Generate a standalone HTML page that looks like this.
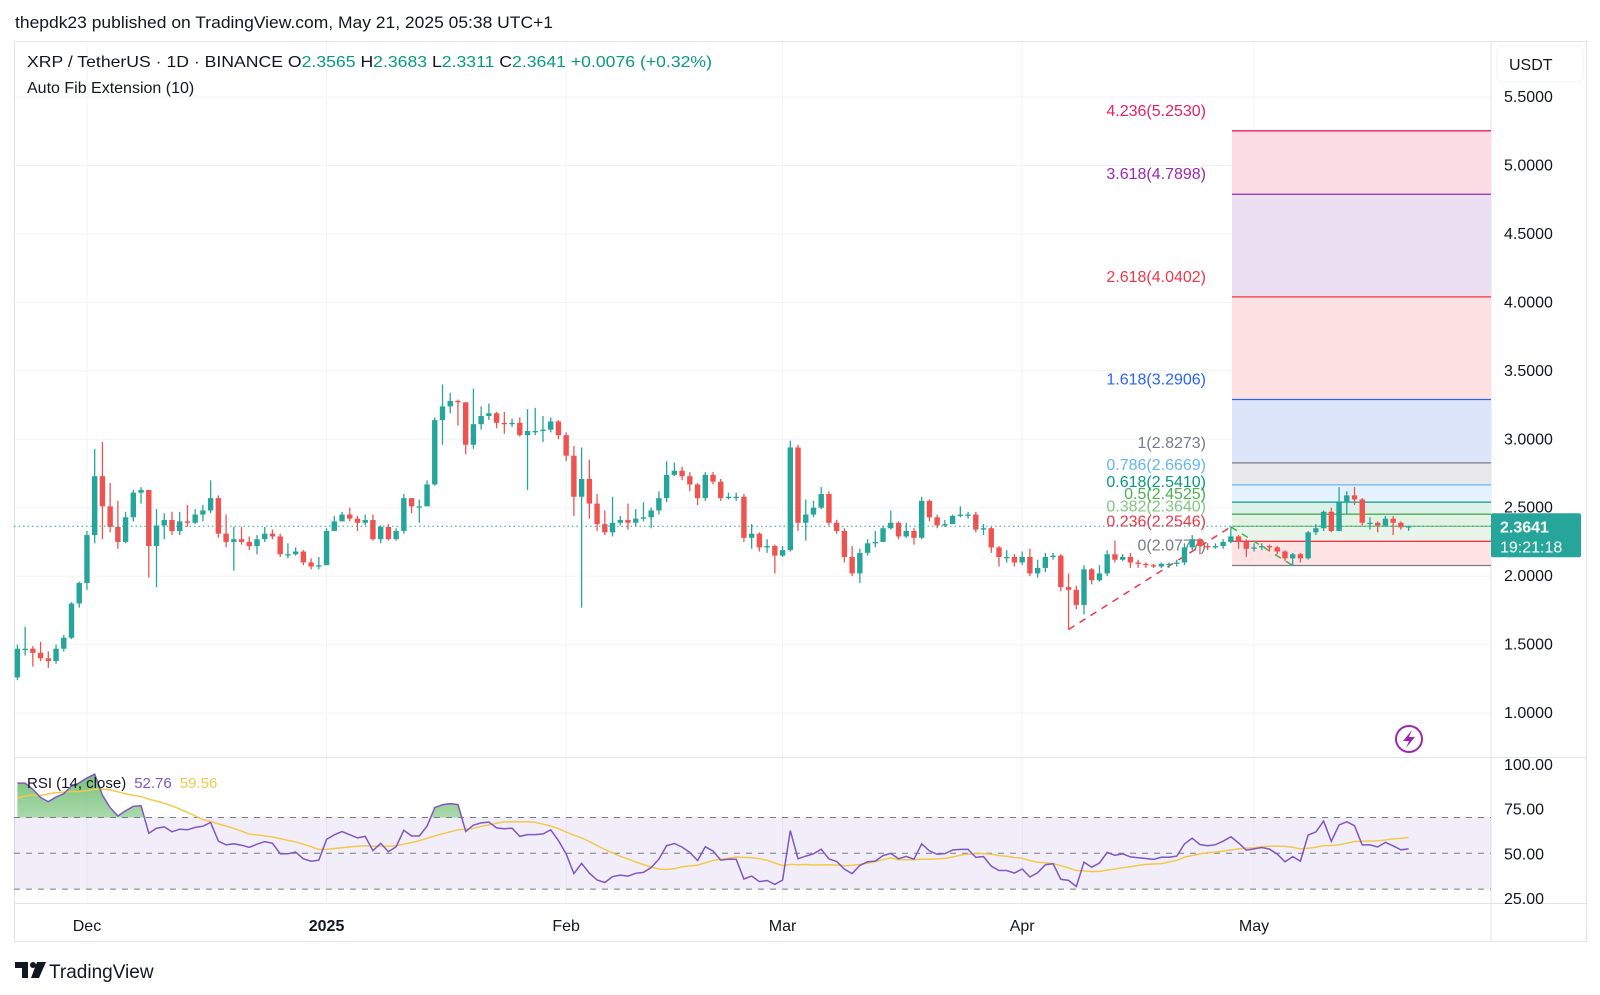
<!DOCTYPE html>
<html><head><meta charset="utf-8">
<style>
html,body{margin:0;padding:0;background:#fff;width:1600px;height:995px;overflow:hidden}
svg{display:block}
</style></head>
<body>
<svg id="c" width="1600" height="995" xmlns="http://www.w3.org/2000/svg" font-family="Liberation Sans, sans-serif">
<defs>
<clipPath id="mainClip"><rect x="14" y="41" width="1477" height="716"/></clipPath>
<clipPath id="rsiClip"><rect x="14" y="758" width="1477" height="145"/></clipPath>
<clipPath id="obClip"><rect x="14" y="758" width="1477" height="59.5"/></clipPath>
<linearGradient id="obGrad" x1="0" y1="0" x2="0" y2="1"><stop offset="0" stop-color="#4caf50" stop-opacity="0.75"/><stop offset="1" stop-color="#4caf50" stop-opacity="0.05"/></linearGradient>
</defs>
<rect x="0" y="0" width="1600" height="995" fill="#ffffff"/>
<text x="15" y="28" font-size="17" fill="#131722" textLength="538" lengthAdjust="spacingAndGlyphs">thepdk23 published on TradingView.com, May 21, 2025 05:38 UTC+1</text>
<rect x="14.5" y="41.5" width="1572" height="900" fill="none" stroke="#e0e3eb"/>
<g id="grid"></g>
<g id="fib" clip-path="url(#mainClip)"></g>
<g id="candles" clip-path="url(#mainClip)"></g>
<g id="rsi"></g>
<g id="axes"></g>
<text x="27" y="67" font-size="16" textLength="685" lengthAdjust="spacingAndGlyphs"><tspan fill="#131722">XRP / TetherUS · 1D · BINANCE  O</tspan><tspan fill="#089981">2.3565</tspan><tspan fill="#131722">  H</tspan><tspan fill="#089981">2.3683</tspan><tspan fill="#131722">  L</tspan><tspan fill="#089981">2.3311</tspan><tspan fill="#131722">  C</tspan><tspan fill="#089981">2.3641  +0.0076 (+0.32%)</tspan></text>
<text x="27" y="93" font-size="16" fill="#131722">Auto Fib Extension (10)</text>
<text x="27" y="788" font-size="15"><tspan fill="#131722">RSI (14, close)</tspan><tspan fill="#7e57c2" dx="8">52.76</tspan><tspan fill="#f2c94c" dx="8">59.56</tspan></text>
<rect x="1497" y="46" width="86" height="36" rx="6" fill="#fff" stroke="#f0f3fa"/>
<text x="1509" y="70" font-size="16" fill="#131722">USDT</text>
<g>
<circle cx="1409" cy="739" r="13" fill="#fff" stroke="#9c27b0" stroke-width="2"/>
<polygon points="1412,730 1403,741 1409,741 1406,748 1415,737 1409,737" fill="#9c27b0"/>
</g>
<g>
<path d="M15 962 h13 v16 h-6 v-10 h-7z" fill="#131722"/>
<circle cx="33" cy="965" r="3" fill="#131722"/>
<path d="M37 962 h9 l-7 16 h-8z" fill="#131722"/>
<text x="49" y="978" font-size="19" fill="#131722">TradingView</text>
</g>
</svg>
<script>
const preCloses=[0.53,0.53,0.54,0.54,0.53,0.52,0.52,0.51,0.51,0.52,0.52,0.51,0.51,0.50,0.52,0.54,0.55,0.56,0.61,0.62,0.71,0.64,0.72,0.80,0.93,1.12,1.09,1.10,1.07,1.11,1.26];
const closes=[1.47,1.47,1.44,1.40,1.38,1.47,1.55,1.80,1.95,2.30,2.73,2.51,2.36,2.25,2.43,2.61,2.63,2.22,2.37,2.41,2.33,2.40,2.39,2.45,2.48,2.57,2.31,2.25,2.27,2.25,2.22,2.27,
2.31,2.29,2.16,2.16,2.18,2.10,2.07,2.08,2.33,2.40,2.45,2.42,2.39,2.41,2.27,2.36,2.27,2.33,2.57,2.51,2.51,2.67,3.14,3.24,3.28,3.27,2.96,3.11,3.17,3.19,3.12,
3.11,3.12,3.03,3.06,3.06,3.07,3.13,3.03,2.88,2.58,2.71,2.53,2.38,2.32,2.39,2.41,2.39,2.42,2.43,2.48,2.57,2.74,2.77,2.73,2.67,2.57,2.74,2.69,2.57,2.58,2.58,2.28,2.31,
2.21,2.22,2.15,2.19,2.94,2.39,2.45,2.50,2.60,2.39,2.33,2.14,2.02,2.17,2.24,2.25,2.35,2.39,2.29,2.33,2.28,2.55,2.43,2.37,2.38,2.44,2.45,2.45,2.34,2.35,2.21,2.14,
2.14,2.10,2.14,2.02,2.06,2.14,2.15,1.92,1.90,1.79,2.05,1.97,2.02,2.16,2.12,2.14,2.10,2.09,2.08,2.07,2.09,2.09,2.10,2.21,2.27,2.22,2.21,2.22,2.25,2.29,2.25,2.20,2.21,2.22,2.21,2.18,2.13,2.16,2.13,2.32,2.35,2.47,2.33,2.54,2.59,2.56,2.39,2.39,2.37,2.42,
2.39,2.3565,2.3641];
const highs=[1.50,1.63,1.49,1.52,1.45,1.50,1.57,1.81,1.96,2.33,2.93,2.98,2.68,2.55,2.47,2.63,2.65,2.63,2.49,2.46,2.47,2.47,2.52,2.49,2.52,2.70,2.59,2.45,2.36,2.36,2.29,2.30,
2.36,2.34,2.31,2.24,2.21,2.19,2.13,2.14,2.35,2.44,2.47,2.50,2.44,2.45,2.45,2.37,2.38,2.35,2.60,2.57,2.56,2.70,3.16,3.40,3.34,3.29,3.27,3.37,3.24,3.26,3.20,
3.20,3.15,3.16,3.22,3.23,3.17,3.16,3.14,3.05,2.95,2.94,2.85,2.60,2.48,2.58,2.44,2.53,2.49,2.54,2.50,2.62,2.84,2.83,2.80,2.76,2.68,2.76,2.76,2.71,2.61,2.61,2.60,2.38,
2.32,2.27,2.23,2.22,2.99,2.96,2.56,2.55,2.65,2.62,2.41,2.35,2.22,2.20,2.27,2.33,2.37,2.48,2.40,2.39,2.35,2.58,2.56,2.45,2.41,2.45,2.51,2.47,2.47,2.38,2.36,2.22,
2.19,2.16,2.18,2.20,2.12,2.17,2.17,2.16,2.02,1.93,2.08,2.06,2.08,2.19,2.26,2.16,2.17,2.12,2.10,2.09,2.10,2.10,2.12,2.24,2.30,2.28,2.24,2.24,2.27,2.36,2.30,2.27,2.24,2.24,2.23,2.22,2.19,2.17,2.17,2.33,2.38,2.48,2.50,2.65,2.62,2.65,2.57,2.43,2.40,2.44,
2.44,2.40,2.3683];
const lows=[1.24,1.42,1.34,1.38,1.33,1.36,1.45,1.54,1.77,1.90,2.24,2.27,2.32,2.20,2.24,2.40,2.53,1.99,1.92,2.27,2.30,2.30,2.36,2.38,2.40,2.46,2.28,2.21,2.04,2.23,2.19,2.16,
2.25,2.27,2.14,2.13,2.15,2.08,2.05,2.05,2.08,2.33,2.40,2.40,2.33,2.37,2.26,2.24,2.26,2.26,2.31,2.46,2.39,2.51,2.66,2.96,3.19,3.10,2.89,2.93,3.07,3.14,3.08,
3.04,3.09,3.02,2.63,3.03,2.98,3.05,3.00,2.84,2.44,1.77,2.42,2.33,2.30,2.29,2.37,2.34,2.36,2.40,2.35,2.45,2.54,2.73,2.70,2.62,2.52,2.55,2.67,2.55,2.56,2.55,2.25,2.20,
2.18,2.17,2.02,2.14,2.18,2.33,2.26,2.43,2.49,2.37,2.31,2.10,2.00,1.95,2.15,2.21,2.25,2.34,2.27,2.28,2.23,2.27,2.40,2.35,2.36,2.38,2.43,2.42,2.32,2.30,2.17,2.07,
2.10,2.07,2.08,2.00,1.99,2.03,2.12,1.89,1.6104,1.76,1.72,1.94,1.96,2.00,2.10,2.11,2.06,2.06,2.06,2.06,2.06,2.06,2.07,2.08,2.19,2.16,2.19,2.20,2.20,2.24,2.20,2.14,2.18,2.19,2.18,2.16,2.11,2.0777,2.10,2.12,2.30,2.33,2.32,2.33,2.45,2.52,2.37,2.34,2.32,2.36,
2.30,2.34,2.3311];
const dateLabels=['Dec','2025','Feb','Mar','Apr','May'];
const dateLabelIdx=[9,40,71,99,130,160];
const priceTicks=[1.0,1.5,2.0,2.5,3.0,3.5,4.0,4.5,5.0,5.5];
const rsiTicks=[100,75,50,25];
const rsiBands=[70,50,30];
const fibRatios=[0,0.236,0.382,0.5,0.618,0.786,1,1.618,2.618,3.618,4.236];
const fibColors=['#787b86','#f23645','#81c784','#4caf50','#089981','#64b5f6','#787b86','#2962ff','#f23645','#9c27b0','#e91e63'];
const fibFills=['#fde3e3','#e9f5ea','#e3f2e4','#ddf0ea','#e3f2fd','#e8e8ec','#dde5fb','#fde1e1','#ecdff2','#fbdbe4'];
const fibPivotIdx=[136,157,165];

const NS='http://www.w3.org/2000/svg';
function mk(tag,attrs,parent){const e=document.createElementNS(NS,tag);for(const k in attrs)e.setAttribute(k,attrs[k]);parent.appendChild(e);return e;}
const X0=17.4, STEP=7.729;
const xs=i=>X0+i*STEP;
const yP=p=>97+(5.5-p)*136.9;
const yR=v=>853.3-(v-50)*1.79;
const opens=closes.map((c,i)=>i===0?preCloses[preCloses.length-1]:closes[i-1]);

const grid=document.getElementById('grid');
const axes=document.getElementById('axes');
// vertical grid + date labels
dateLabelIdx.forEach((d,k)=>{
  const x=xs(d);
  const gl=mk('line',{x1:x,x2:x,y1:42,y2:903,stroke:'#f0f3fa','stroke-width':1},grid);
  
  
  const t=mk('text',{x:x,y:931,'font-size':16,'text-anchor':'middle',fill:'#131722','font-weight':dateLabels[k]==='2025'?'bold':'normal'},axes);
  t.textContent=dateLabels[k];
  
  
});
priceTicks.forEach(p=>{
  const y=yP(p);
  const gl=mk('line',{x1:15,x2:1491,y1:y,y2:y,stroke:'#f0f3fa','stroke-width':1},grid);
  
  
  const t=mk('text',{x:1504,y:y+5,'font-size':16,fill:'#131722'},axes);
  t.textContent=p.toFixed(4);
  
  
});
// separators
[[1491,42,1491,942],[14,757.5,1587,757.5],[14,903.5,1587,903.5]].forEach(s=>{
  const l=mk('line',{x1:s[0],y1:s[1],x2:s[2],y2:s[3],stroke:'#e0e3eb','stroke-width':1},grid);
  
  
});

// fib
const fibG=document.getElementById('fib');
const A=lows[fibPivotIdx[0]], B=highs[fibPivotIdx[1]], C=lows[fibPivotIdx[2]];
const fibPrices=fibRatios.map(r=>C+r*(B-A));
const fx0=1232, fx1=1491;
for(let k=0;k<fibPrices.length-1;k++){
  const y1=yP(fibPrices[k+1]), y2=yP(fibPrices[k]);
  const r=mk('rect',{x:fx0,y:y1,width:fx1-fx0,height:y2-y1,fill:fibFills[k]},fibG);
  
  
}
fibPrices.forEach((p,k)=>{
  const y=yP(p);
  const l=mk('line',{x1:fx0,x2:fx1,y1:y,y2:y,stroke:fibColors[k],'stroke-width':1.3},fibG);
  
  
  const t=mk('text',{x:1206,y:y-15,'font-size':16,'text-anchor':'end',fill:fibColors[k]},fibG);
  t.textContent=fibRatios[k]+'('+p.toFixed(4)+')';
  
  
});
const dl1=mk('line',{x1:xs(fibPivotIdx[0]),y1:yP(A),x2:xs(fibPivotIdx[1]),y2:yP(B),stroke:'#f23645','stroke-width':1.5,'stroke-dasharray':'7,6'},fibG);


const dl2=mk('line',{x1:xs(fibPivotIdx[1]),y1:yP(B),x2:xs(fibPivotIdx[2]),y2:yP(C),stroke:'#4caf50','stroke-width':1.5,'stroke-dasharray':'7,6'},fibG);



// candles
const cg=document.getElementById('candles');
closes.forEach((c,i)=>{
  const o=opens[i], up=c>=o, col=up?'#26a69a':'#ef5350', x=xs(i);
  const g=mk('g',{},cg);
  
  
  mk('line',{x1:x,x2:x,y1:yP(highs[i]),y2:yP(lows[i]),stroke:col,'stroke-width':1.3},g);
  const yt=yP(Math.max(o,c)), yb=yP(Math.min(o,c));
  mk('rect',{x:x-2.7,y:yt,width:5.4,height:Math.max(1.3,yb-yt),fill:col},g);
});
const last=closes[closes.length-1];
const pl=mk('line',{x1:14,x2:1491,y1:yP(last),y2:yP(last),stroke:'#26a69a','stroke-width':1,'stroke-dasharray':'1.5,3'},cg);


const pb=mk('rect',{x:1491,y:yP(last)-13,width:90,height:44,rx:2,fill:'#26a69a'},axes);


const pt=mk('text',{x:1500,y:yP(last)+6,'font-size':16,'font-weight':'bold',fill:'#fff'},axes);
pt.textContent=last.toFixed(4);


const ct=mk('text',{x:1500,y:yP(last)+26,'font-size':16,fill:'#fff'},axes);
ct.textContent='19:21:18';



// RSI
const rg=document.getElementById('rsi');
const full=preCloses.concat(closes);
const rsiFull=new Array(full.length).fill(null);
let ag=0,al=0;
for(let i=1;i<=14;i++){const d=full[i]-full[i-1];if(d>0)ag+=d;else al-=d;}
ag/=14;al/=14;
rsiFull[14]=al===0?100:100-100/(1+ag/al);
for(let i=15;i<full.length;i++){const d=full[i]-full[i-1];ag=(ag*13+Math.max(d,0))/14;al=(al*13+Math.max(-d,0))/14;rsiFull[i]=al===0?100:100-100/(1+ag/al);}
const smaFull=rsiFull.map((v,i)=>{if(i<27)return null;let s=0;for(let j=i-13;j<=i;j++)s+=rsiFull[j];return s/14;});
const off=preCloses.length;
const rsiVals=closes.map((c,i)=>rsiFull[i+off]);
const smaVals=closes.map((c,i)=>smaFull[i+off]);
const band=mk('rect',{x:14,y:yR(70),width:1477,height:yR(30)-yR(70),fill:'#7e57c2','fill-opacity':0.1},rg);


rsiBands.forEach(v=>{
  const l=mk('line',{x1:14,x2:1491,y1:yR(v),y2:yR(v),stroke:'#787b86','stroke-width':1,'stroke-dasharray':'6,6'},rg);
  
  
});
const pts=rsiVals.map((v,i)=>xs(i).toFixed(1)+','+yR(v).toFixed(1));
const ob=mk('polygon',{points:pts.join(' ')+' '+xs(rsiVals.length-1)+','+yR(70)+' '+xs(0)+','+yR(70),fill:'url(#obGrad)','clip-path':'url(#obClip)'},rg);


const sp=smaVals.map((v,i)=>xs(i).toFixed(1)+','+yR(v).toFixed(1));
const sl=mk('polyline',{points:sp.join(' '),fill:'none',stroke:'#f2c94c','stroke-width':1.5,'clip-path':'url(#rsiClip)'},rg);


const rl=mk('polyline',{points:pts.join(' '),fill:'none',stroke:'#7e57c2','stroke-width':1.5,'clip-path':'url(#rsiClip)'},rg);


rsiTicks.forEach(v=>{
  const t=mk('text',{x:1504,y:yR(v)+6,'font-size':16,fill:'#131722'},axes);
  t.textContent=v.toFixed(2);
  
  
});
</script>
</body></html>
